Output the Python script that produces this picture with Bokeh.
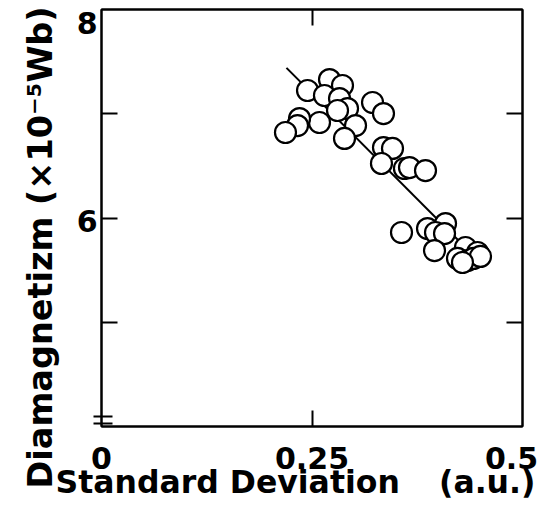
from bokeh.plotting import figure
from bokeh.models import LinearAxis, FixedTicker, Range1d, Title
from bokeh.embed import file_html
from bokeh.resources import INLINE

# data
std_dev = [0.2447, 0.2708, 0.2862, 0.2648, 0.2827, 0.2922, 0.2803, 0.2589, 0.2352,
           0.2328, 0.2185, 0.3017, 0.2886, 0.3219, 0.3349, 0.3349, 0.3456, 0.3325,
           0.3598, 0.3658, 0.3848, 0.3563, 0.3872, 0.4086, 0.3967, 0.4074, 0.3955,
           0.4323, 0.4466, 0.4228, 0.4347, 0.4418, 0.4501, 0.4287]
diamag = [7.223, 7.328, 7.271, 7.175, 7.146, 7.050, 7.031, 6.916, 6.954,
          6.887, 6.820, 6.887, 6.763, 7.108, 7.002, 6.676, 6.667, 6.523,
          6.475, 6.484, 6.455, 5.861, 5.899, 5.947, 5.861, 5.851, 5.688,
          5.717, 5.669, 5.612, 5.592, 5.612, 5.631, 5.573]
fit_x = [0.2197, 0.44]
fit_y = [7.44, 5.655]

# tick label positions (as placed in the figure) and texts
x_label_pos = [0, 0.25, 0.487]
x_label_txt = ["0", "0.25", "0.5"]
y_label_pos = [7.875, 5.976]
y_label_txt = ["8", "6"]
y_tick_marks = [5, 6, 7]
x_tick_marks = [0.25]
break_marks = [4.029, 4.096]

FONT = "DejaVu Sans"
NB = "\u00a0"

p = figure(width=538, height=503, output_backend="svg", toolbar_location=None,
           x_range=Range1d(0, 0.5), y_range=Range1d(4, 8),
           min_border_left=101, min_border_right=16, min_border_top=9,
           min_border_bottom=77, x_axis_location=None, y_axis_location=None)
p.background_fill_color = "white"
p.border_fill_color = "white"
p.xgrid.visible = False
p.ygrid.visible = False
p.outline_line_color = "black"
p.outline_line_width = 2


def tick_axis(ticks, vertical_labels=False, minor=None):
    t = FixedTicker(ticks=ticks, minor_ticks=minor or [])
    ax = LinearAxis(ticker=t)
    ax.major_tick_in = 16
    ax.major_tick_out = 0
    ax.minor_tick_in = 11 if minor else 0
    ax.minor_tick_out = 8 if minor else 0
    ax.minor_tick_line_width = 2
    ax.minor_tick_line_color = "black"
    ax.major_tick_line_width = 2
    ax.major_tick_line_color = "black"
    ax.axis_line_width = 2
    ax.axis_line_color = "black"
    ax.major_label_overrides = {v: "" for v in ticks}
    ax.major_label_standoff = 0
    if vertical_labels:
        ax.major_label_orientation = "vertical"
    return ax


def label_axis(ticks, texts, standoff):
    ax = LinearAxis(ticker=FixedTicker(ticks=ticks))
    ax.major_tick_in = 0
    ax.major_tick_out = 0
    ax.minor_tick_in = 0
    ax.minor_tick_out = 0
    ax.axis_line_color = None
    ax.major_label_overrides = {v: s for v, s in zip(ticks, texts)}
    ax.major_label_standoff = standoff
    ax.major_label_text_font = FONT
    ax.major_label_text_font_style = "bold"
    ax.major_label_text_font_size = "30px"
    ax.major_label_text_color = "black"
    return ax


p.add_layout(tick_axis(x_tick_marks, vertical_labels=True), "below")
p.add_layout(tick_axis(x_tick_marks, vertical_labels=True), "above")
p.add_layout(tick_axis(y_tick_marks, minor=break_marks), "left")
p.add_layout(tick_axis(y_tick_marks), "right")

p.add_layout(label_axis(x_label_pos, x_label_txt, 20), "below")
p.add_layout(label_axis(y_label_pos, y_label_txt, -4), "left")

p.add_layout(Title(text="Standard Deviation" + NB * 3 + "\u2009" + "(a.u.)",
                   align="left", offset=-46, standoff=-19, text_font=FONT,
                   text_font_style="bold", text_font_size="31.5px",
                   text_color="black"), "below")
p.add_layout(Title(text="Diamagnetizm (×10⁻⁵Wb)", align="left",
                   offset=-62, standoff=27, text_font=FONT,
                   text_font_style="bold", text_font_size="33.5px",
                   text_color="black"), "left")

p.line(fit_x, fit_y, line_color="black", line_width=2)
p.scatter(std_dev, diamag, size=21, fill_color="white", line_color="black",
          line_width=2.2)

open("out.html", "w").write(file_html(p, INLINE))
